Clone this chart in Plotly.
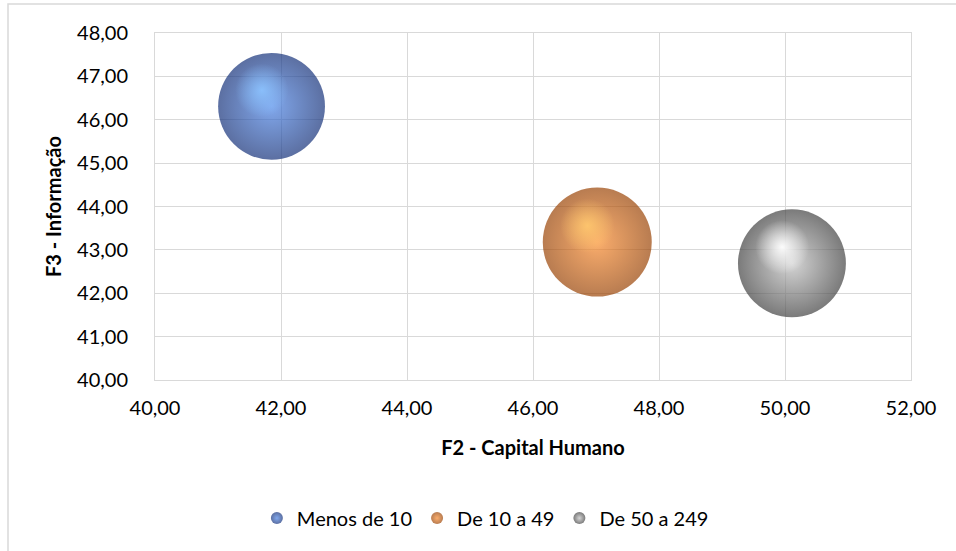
import plotly.graph_objects as go

# Dimensão por escalão de número de trabalhadores
categorias = ["Menos de 10", "De 10 a 49", "De 50 a 249"]
f2_capital_humano = [41.85, 47.02, 50.11]
f3_informacao = [46.31, 43.18, 42.69]
peso_bolha = [0.98, 1.02, 1.00]

x_ticks = [40, 42, 44, 46, 48, 50, 52]
y_ticks = [40, 41, 42, 43, 44, 45, 46, 47, 48]

# colour sets: edge (dark), body centre, highlight
cores_borda = ["#16327a", "#9a4406", "#424242"]
cores_centro = ["#4a82e4", "#f8892c", "#c2c2c2"]
cores_brilho = ["rgba(140,195,255,0.9)", "rgba(255,200,110,0.9)", "rgba(255,255,255,0.95)"]

W, H = 956, 551
ML, MR, MT, MB = 155, 45, 33, 171
FONT = "Lato"

x_range = [40, 52]
y_range = [40, 48]
px_x = (W - ML - MR) / (x_range[1] - x_range[0])
px_y = (H - MT - MB) / (y_range[1] - y_range[0])

diam_max = 109
sizeref = 2.0 * max(peso_bolha) / diam_max ** 2

fig = go.Figure()

for i, nome in enumerate(categorias):
    diam = diam_max * (peso_bolha[i] / max(peso_bolha)) ** 0.5
    # main sphere body
    fig.add_trace(go.Scatter(
        x=[f2_capital_humano[i]], y=[f3_informacao[i]],
        mode="markers", name=nome,
        marker=dict(
            size=[peso_bolha[i]], sizemode="area", sizeref=sizeref,
            color=cores_borda[i],
            gradient=dict(type="radial", color=cores_centro[i]),
            line=dict(width=0),
        ),
        hovertemplate=nome + "<br>%{x:.2f}; %{y:.2f}<extra></extra>",
    ))
    # specular highlight, offset up-left of the sphere centre
    dx = -0.18 * diam / 2 / px_x
    dy = 0.30 * diam / 2 / px_y
    fig.add_trace(go.Scatter(
        x=[f2_capital_humano[i] + dx], y=[f3_informacao[i] + dy],
        mode="markers", showlegend=False, hoverinfo="skip",
        marker=dict(
            size=diam * 0.5,
            color=cores_brilho[i].rsplit(",", 1)[0] + ",0)",
            gradient=dict(type="radial", color=cores_brilho[i]),
            line=dict(width=0),
        ),
    ))

axis_common = dict(
    showgrid=True, gridcolor="#d9d9d9", gridwidth=1,
    showline=True, linecolor="#d9d9d9", linewidth=1, mirror=True,
    zeroline=False, ticks="", tickformat=".2f",
    tickfont=dict(family=FONT, size=20, color="#000000"),
)

fig.update_layout(
    width=W, height=H,
    margin=dict(l=ML, r=MR, t=MT, b=MB),
    paper_bgcolor="white", plot_bgcolor="white",
    separators=",.",
    font=dict(family=FONT, size=20, color="#000000"),
    xaxis=dict(
        range=x_range, tickvals=x_ticks, ticklabelstandoff=10,
        title=dict(text="<b>F2 - Capital Humano</b>", standoff=22,
                   font=dict(family=FONT, size=20)),
        **axis_common,
    ),
    yaxis=dict(
        range=y_range, tickvals=y_ticks, ticklabelstandoff=22,
        title=dict(text="<b>F3 - Informação</b>", standoff=10,
                   font=dict(family=FONT, size=20)),
        **axis_common,
    ),
    legend=dict(
        orientation="h", x=0.437, xanchor="center", y=-0.398, yanchor="middle",
        font=dict(family=FONT, size=20), itemsizing="constant",
        bgcolor="rgba(0,0,0,0)",
    ),
    shapes=[
        dict(type="rect", xref="paper", yref="paper",
             x0=(8 - ML) / (W - ML - MR), x1=1 + (MR + 10) / (W - ML - MR),
             y0=-(MB + 10) / (H - MT - MB), y1=1 + (MT - 4) / (H - MT - MB),
             line=dict(color="#d9d9d9", width=1.5), layer="below"),
    ],
)

fig.write_html("out.html")
